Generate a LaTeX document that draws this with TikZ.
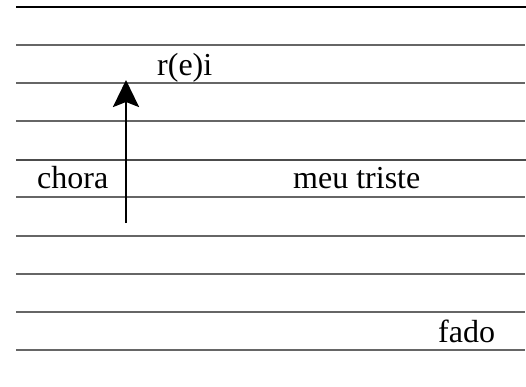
\documentclass[tikz,border=0pt]{standalone}
\usepackage{fontspec}
\setmainfont{Liberation Serif}
\usetikzlibrary{arrows.meta}
\begin{document}
\begin{tikzpicture}[x=1pt,y=-1pt,
  topline/.style={black,line width=1.8pt},
  staffline/.style={gray!80!black,line width=1.8pt},
  midline/.style={black!70,line width=2.8pt},
  lbl/.style={anchor=base west,inner sep=0pt,font=\fontsize{32}{38}\selectfont},
  bigarrow/.style={line width=2.8pt,-{Stealth[length=27pt,width=26pt,inset=5pt]}}]
\useasboundingbox (0,0) rectangle (526,387);
% horizontal lines
\draw[topline] (16,7) -- (526,7);
\foreach \y in {45,83,121,197,236,274,312,350}
  \draw[staffline] (16,\y) -- (525,\y);
\draw[midline] (16,160) -- (526,160);
% texts
\node[lbl] (rei) at (157,76) {r(e)i};
\node[lbl] (chora) at (37,189) {chora};
\node[lbl] (meu) at (293,189) {meu triste};
\node[lbl] (fado) at (438,342) {fado};
% arrow
\coordinate (a0) at (126,223);
\coordinate (a1) at (126,80);
\draw[bigarrow] (a0) -- (a1);
\end{tikzpicture}
\end{document}
